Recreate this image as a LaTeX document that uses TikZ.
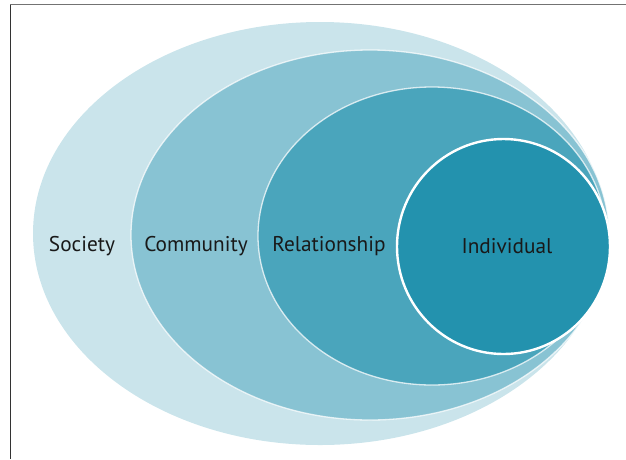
\documentclass[tikz,border=0pt]{standalone}
\usepackage{fontspec}
\setmainfont{PT Sans}
\usetikzlibrary{shapes.geometric}

\definecolor{societyblue}{HTML}{CAE4EB}
\definecolor{communityblue}{HTML}{88C3D3}
\definecolor{relationblue}{HTML}{4AA5BC}
\definecolor{individualblue}{HTML}{2392AE}

\begin{document}
\begin{tikzpicture}[
          x=1pt,y=-1pt,
          ring/.style={ellipse,inner sep=0pt,outer sep=0pt},
          rim/.style={ring,draw=white,draw opacity=.75,line width=1.3pt},
          lbl/.style={font=\fontsize{21.3}{25}\selectfont,text=black!90,inner sep=0pt}
            ]
    \useasboundingbox (0,0) rectangle (626,459);
    % frame
    \coordinate (tl) at (10,4.7);
    \coordinate (tr) at (626,4.7);
    \coordinate (bl) at (10,459);
    \draw[black!55,line width=1pt] (tl) -- (tr);
    \draw[black!80,line width=1pt] (tl) -- (bl);
    % nested ovals
    \node[ring,fill=societyblue,minimum width=574,minimum height=423] (society) at (320,233.5) {};
    \node[rim,fill=communityblue,minimum width=478,minimum height=370] (community) at (370,235) {};
    \node[rim,fill=relationblue,minimum width=348,minimum height=298] (relation) at (432,236) {};
    \node[ring,fill=individualblue,draw=white,line width=2.4pt,minimum width=213,minimum height=215] (individual) at (503.5,246.5) {};
    % labels
    \node[lbl] (societylbl) at (82,246) {Society};
    \node[lbl] (communitylbl) at (196,246) {Community};
    \node[lbl] (relationlbl) at (329,246) {Relationship};
    \node[lbl] (individuallbl) at (507,246) {Individual};
\end{tikzpicture}
\end{document}
